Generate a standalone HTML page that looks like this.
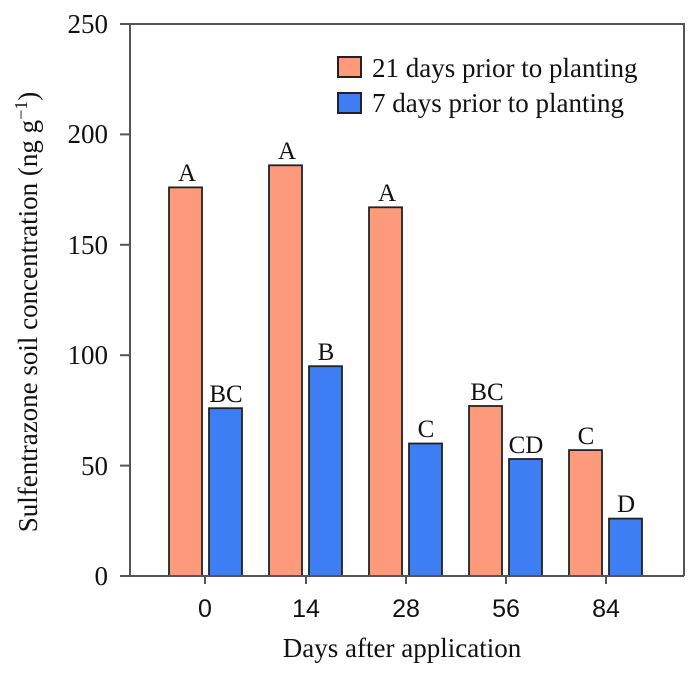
<!DOCTYPE html>
<html><head><style>body{margin:0;background:#fff}</style></head><body>
<svg width="700" height="675" xmlns="http://www.w3.org/2000/svg" font-family="Liberation Serif, serif">
<rect x="0" y="0" width="700" height="675" fill="#fff"/>
<g stroke="#222" stroke-width="1.8" fill="#fd9a7b">
<rect x="169" y="187.4" width="33" height="388.6"/>
<rect x="269" y="165.3" width="33" height="410.7"/>
<rect x="369" y="207.3" width="33" height="368.7"/>
<rect x="469" y="406" width="33" height="170"/>
<rect x="569" y="450.1" width="33" height="125.9"/>
</g>
<g stroke="#222" stroke-width="1.8" fill="#3d7ef5">
<rect x="209" y="408.2" width="33" height="167.8"/>
<rect x="309" y="366.2" width="33" height="209.8"/>
<rect x="409" y="443.5" width="33" height="132.5"/>
<rect x="509" y="459" width="33" height="117"/>
<rect x="609" y="518.6" width="33" height="57.4"/>
</g>
<g stroke="#555" stroke-width="2" fill="none">
<polyline points="130,576 130,24 684,24 684,576"/>
<line x1="120" y1="576" x2="684" y2="576"/>
<line x1="120" y1="24" x2="130" y2="24"/>
<line x1="120" y1="134.4" x2="130" y2="134.4"/>
<line x1="120" y1="244.8" x2="130" y2="244.8"/>
<line x1="120" y1="355.2" x2="130" y2="355.2"/>
<line x1="120" y1="465.6" x2="130" y2="465.6"/>
<line x1="205" y1="576" x2="205" y2="584"/>
<line x1="306" y1="576" x2="306" y2="584"/>
<line x1="406" y1="576" x2="406" y2="584"/>
<line x1="506" y1="576" x2="506" y2="584"/>
<line x1="606" y1="576" x2="606" y2="584"/>
</g>
<g font-size="27" text-anchor="end" fill="#111">
<text x="108" y="33">250</text><text x="108" y="143">200</text><text x="108" y="254">150</text>
<text x="108" y="364">100</text><text x="108" y="475">50</text><text x="108" y="585">0</text>
</g>
<g font-size="25" text-anchor="middle" fill="#111" font-family="Liberation Sans, sans-serif">
<text x="205" y="617">0</text><text x="306" y="617">14</text><text x="406" y="617">28</text>
<text x="506" y="617">56</text><text x="606" y="617">84</text>
</g>
<g font-size="25" text-anchor="middle" fill="#111">
<text x="187" y="181">A</text><text x="287" y="159">A</text><text x="387" y="201">A</text>
<text x="487" y="400">BC</text><text x="586" y="444">C</text>
<text x="226" y="402">BC</text><text x="326" y="360">B</text><text x="426" y="437">C</text>
<text x="526" y="453">CD</text><text x="626" y="512">D</text>
</g>
<text x="402" y="657" font-size="27" text-anchor="middle" fill="#111">Days after application</text>
<text transform="translate(37,312) rotate(-90)" font-size="27" text-anchor="middle" fill="#111">Sulfentrazone soil concentration (ng g<tspan dy="-10" font-size="18">−1</tspan><tspan dy="10">)</tspan></text>
<rect x="338" y="57" width="23" height="20" fill="#fd9a7b" stroke="#222" stroke-width="2"/>
<rect x="338" y="93" width="23" height="20" fill="#3d7ef5" stroke="#222" stroke-width="2"/>
<g font-size="27" fill="#111">
<text x="372" y="77">21 days prior to planting</text>
<text x="372" y="112">7 days prior to planting</text>
</g>
</svg>
</body></html>
